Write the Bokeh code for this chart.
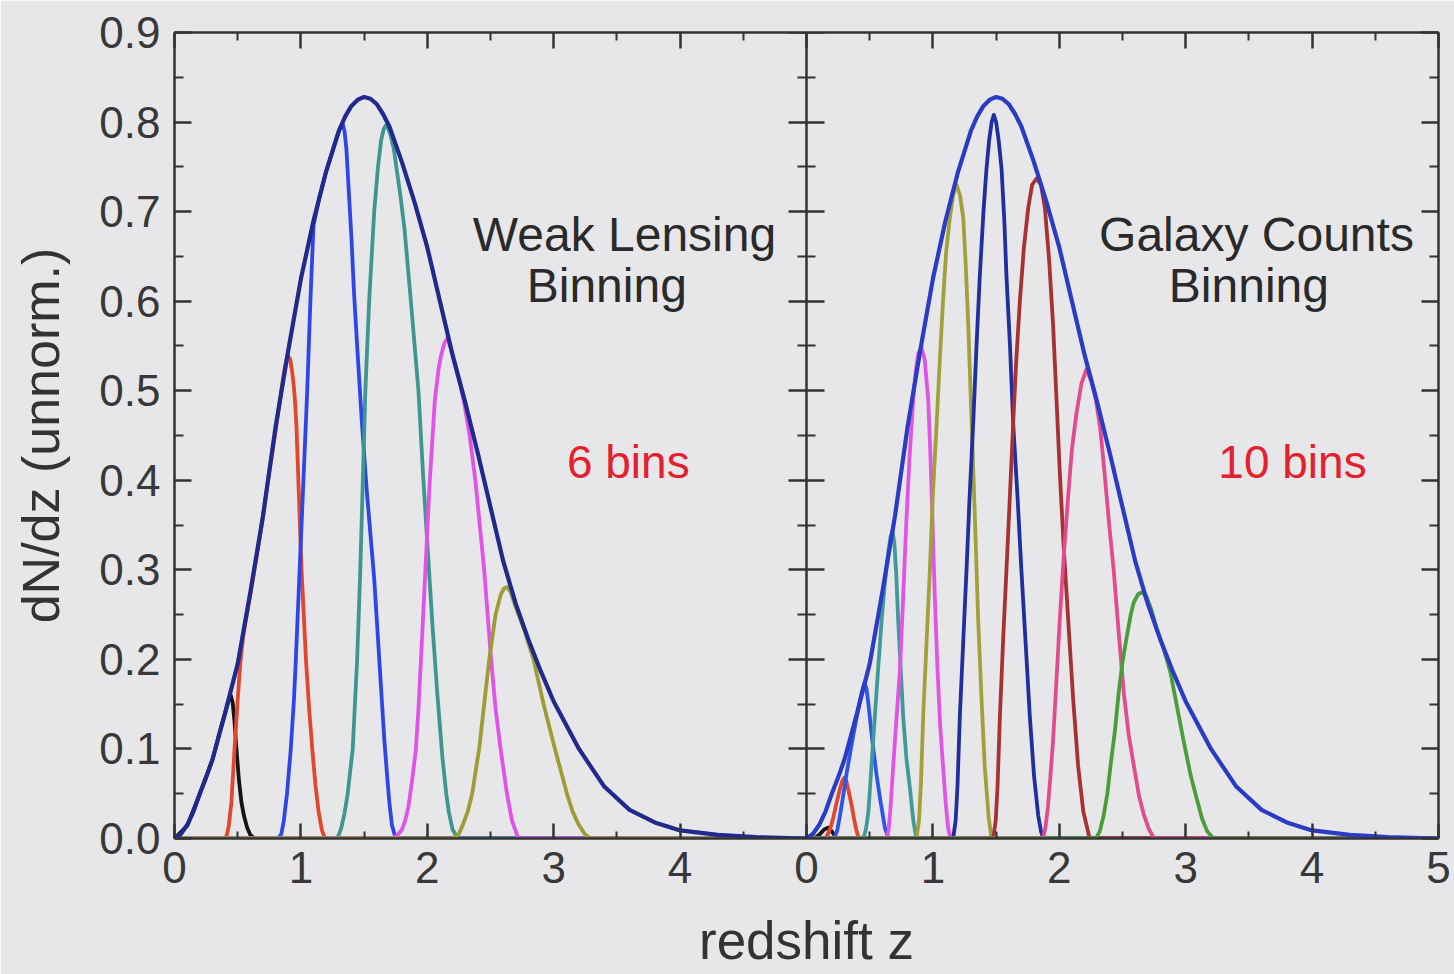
from bokeh.plotting import figure
from bokeh.models import Range1d, LinearAxis, FixedTicker, Label
from bokeh.embed import file_html
from bokeh.resources import INLINE

# ---------------- data ----------------
MAIN_Z = [0, 0.05, 0.1, 0.15, 0.2, 0.25, 0.3, 0.4, 0.5, 0.6, 0.7, 0.8, 0.9, 1.0, 1.1, 1.2, 1.3,
          1.35, 1.4, 1.45, 1.5, 1.55, 1.6, 1.65, 1.7, 1.8, 1.9, 2.0, 2.1, 2.2, 2.3, 2.4, 2.5,
          2.6, 2.7, 2.8, 2.9, 3.0, 3.2, 3.4, 3.6, 3.8, 4.0, 4.3, 4.6, 5.0]
MAIN_Y = [0, 0.005, 0.015, 0.03, 0.05, 0.068, 0.088, 0.14, 0.195, 0.275, 0.36, 0.46, 0.545,
          0.625, 0.69, 0.745, 0.79, 0.806, 0.818, 0.825, 0.828, 0.826, 0.82, 0.809, 0.795,
          0.755, 0.71, 0.66, 0.60, 0.54, 0.487, 0.43, 0.37, 0.31, 0.262, 0.222, 0.186, 0.153,
          0.10, 0.058, 0.032, 0.018, 0.009, 0.004, 0.0015, 0.0]

# Weak lensing binning (6 bins)
WL1_Z = [0, 0.1, 0.2, 0.3, 0.36, 0.40, 0.43, 0.445, 0.46, 0.475, 0.49, 0.51, 0.53, 0.55, 0.575,
         0.6, 0.625, 0.65, 5.0]
WL1_Y = [0, 0.014, 0.05, 0.088, 0.12, 0.14, 0.155, 0.16, 0.152, 0.13, 0.10, 0.065, 0.04, 0.025,
         0.012, 0.004, 0.001, 0, 0]
WL2_Z = [0, 0.40, 0.415, 0.43, 0.45, 0.475, 0.50, 0.52, 0.54, 0.555, 0.58, 0.60, 0.65, 0.70,
         0.75, 0.80, 0.85, 0.875, 0.895, 0.915, 0.93, 0.944, 0.955, 0.965, 0.98, 1.005, 1.04,
         1.065, 1.09, 1.115, 1.14, 1.165, 1.19, 5.0]
WL2_Y = [0, 0, 0.004, 0.015, 0.04, 0.10, 0.155, 0.195, 0.222, 0.236, 0.256, 0.272, 0.315, 0.36,
         0.41, 0.455, 0.505, 0.528, 0.54, 0.535, 0.522, 0.505, 0.485, 0.46, 0.40, 0.30, 0.20,
         0.145, 0.10, 0.06, 0.03, 0.01, 0, 0]
WL3_Z = [0, 0.82, 0.845, 0.865, 0.89, 0.92, 0.945, 0.96, 0.975, 0.99, 1.005, 1.02, 1.05, 1.075,
         1.10, 1.15, 1.2, 1.25, 1.29, 1.315, 1.33, 1.345, 1.36, 1.38, 1.40, 1.42, 1.445, 1.48,
         1.52, 1.55, 1.58, 1.62, 1.66, 1.685, 1.70, 1.72, 1.75, 5.0]
WL3_Y = [0, 0, 0.005, 0.02, 0.05, 0.10, 0.155, 0.20, 0.25, 0.30, 0.35, 0.40, 0.50, 0.60, 0.685,
         0.718, 0.745, 0.768, 0.786, 0.795, 0.798, 0.79, 0.77, 0.72, 0.67, 0.61, 0.55, 0.47,
         0.39, 0.34, 0.29, 0.20, 0.11, 0.065, 0.04, 0.015, 0, 0]
WL4_Z = [0, 1.28, 1.30, 1.32, 1.345, 1.37, 1.41, 1.445, 1.47, 1.49, 1.51, 1.54, 1.58, 1.61,
         1.635, 1.655, 1.67, 1.69, 1.71, 1.735, 1.76, 1.79, 1.82, 1.87, 1.90, 1.93, 1.965, 2.0,
         2.04, 2.08, 2.12, 2.15, 2.17, 2.20, 2.24, 5.0]
WL4_Y = [0, 0, 0.004, 0.012, 0.028, 0.05, 0.10, 0.20, 0.30, 0.40, 0.50, 0.60, 0.70, 0.75, 0.78,
         0.792, 0.796, 0.793, 0.785, 0.77, 0.745, 0.715, 0.68, 0.60, 0.55, 0.50, 0.41, 0.33,
         0.24, 0.16, 0.09, 0.05, 0.03, 0.01, 0, 0]
WL5_Z = [0, 1.72, 1.76, 1.80, 1.825, 1.85, 1.88, 1.91, 1.93, 1.95, 1.985, 2.02, 2.06, 2.09,
         2.11, 2.135, 2.16, 2.19, 2.22, 2.255, 2.29, 2.335, 2.38, 2.415, 2.45, 2.48, 2.505,
         2.54, 2.58, 2.63, 2.67, 2.72, 5.0]
WL5_Y = [0, 0, 0.003, 0.01, 0.02, 0.035, 0.065, 0.10, 0.145, 0.20, 0.30, 0.40, 0.49, 0.525,
         0.54, 0.553, 0.559, 0.545, 0.528, 0.51, 0.488, 0.45, 0.40, 0.35, 0.30, 0.245, 0.20,
         0.145, 0.10, 0.05, 0.02, 0, 0]
WL6_Z = [0, 2.20, 2.25, 2.28, 2.32, 2.355, 2.41, 2.45, 2.49, 2.54, 2.58, 2.605, 2.63, 2.66,
         2.70, 2.77, 2.84, 2.92, 3.01, 3.105, 3.15, 3.20, 3.245, 3.29, 5.0]
WL6_Y = [0, 0, 0.005, 0.015, 0.03, 0.05, 0.10, 0.15, 0.20, 0.25, 0.272, 0.279, 0.281, 0.275,
         0.258, 0.232, 0.20, 0.15, 0.10, 0.05, 0.03, 0.015, 0.005, 0, 0]

# Galaxy counts binning (10 bins)
GC1_Z = [0, 0.06, 0.10, 0.14, 0.17, 0.20, 0.24, 5.0]
GC1_Y = [0, 0, 0.004, 0.010, 0.012, 0.008, 0, 0]
GC2_Z = [0, 0.15, 0.17, 0.19, 0.21, 0.23, 0.25, 0.27, 0.285, 0.30, 0.315, 0.33, 0.345, 0.36,
         0.375, 0.39, 0.405, 0.42, 5.0]
GC2_Y = [0, 0, 0.005, 0.012, 0.022, 0.035, 0.047, 0.058, 0.065, 0.068, 0.064, 0.055, 0.045,
         0.035, 0.023, 0.012, 0.004, 0, 0]
GC3_Z = [0, 0.22, 0.245, 0.27, 0.295, 0.32, 0.345, 0.37, 0.395, 0.42, 0.44, 0.46, 0.475, 0.49,
         0.505, 0.52, 0.54, 0.555, 0.585, 0.62, 0.65, 5.0]
GC3_Y = [0, 0, 0.01, 0.03, 0.052, 0.075, 0.095, 0.115, 0.134, 0.152, 0.165, 0.174, 0.167, 0.15,
         0.13, 0.11, 0.087, 0.07, 0.042, 0.012, 0, 0]
GC4_Z = [0, 0.45, 0.47, 0.49, 0.514, 0.54, 0.567, 0.595, 0.62, 0.645, 0.665, 0.68, 0.695, 0.71,
         0.725, 0.745, 0.765, 0.79, 0.82, 0.845, 0.87, 5.0]
GC4_Y = [0, 0, 0.01, 0.03, 0.081, 0.135, 0.19, 0.245, 0.285, 0.318, 0.337, 0.344, 0.33, 0.295,
         0.245, 0.19, 0.136, 0.09, 0.054, 0.02, 0, 0]
GC5_Z = [0, 0.633, 0.65, 0.665, 0.686, 0.71, 0.74, 0.765, 0.79, 0.815, 0.844, 0.865, 0.885,
         0.91, 0.935, 0.963, 0.98, 0.997, 1.015, 1.036, 1.058, 1.08, 1.10, 1.12, 1.14, 5.0]
GC5_Y = [0, 0, 0.01, 0.035, 0.081, 0.13, 0.19, 0.27, 0.354, 0.425, 0.49, 0.523, 0.542, 0.548,
         0.535, 0.49, 0.43, 0.354, 0.27, 0.19, 0.125, 0.081, 0.042, 0.012, 0, 0]
GC6_Z = [0, 0.87, 0.89, 0.905, 0.923, 0.95, 0.976, 1.00, 1.03, 1.055, 1.08, 1.105, 1.134, 1.16,
         1.187, 1.215, 1.24, 1.26, 1.28, 1.30, 1.32, 1.34, 1.358, 1.385, 1.41, 1.44, 1.464, 5.0]
GC6_Y = [0, 0, 0.02, 0.06, 0.136, 0.22, 0.30, 0.385, 0.464, 0.535, 0.60, 0.655, 0.693, 0.718,
         0.73, 0.718, 0.693, 0.64, 0.573, 0.49, 0.409, 0.325, 0.245, 0.155, 0.081, 0.025, 0, 0]
GC7_Z = [0, 1.16, 1.18, 1.195, 1.213, 1.24, 1.266, 1.29, 1.319, 1.345, 1.371, 1.40, 1.424,
         1.445, 1.465, 1.482, 1.50, 1.52, 1.543, 1.565, 1.582, 1.61, 1.635, 1.67, 1.70, 1.735,
         1.767, 1.80, 1.833, 1.855, 1.875, 5.0]
GC7_Y = [0, 0, 0.02, 0.06, 0.136, 0.22, 0.30, 0.38, 0.464, 0.55, 0.628, 0.70, 0.748, 0.78, 0.80,
         0.808, 0.80, 0.78, 0.748, 0.69, 0.628, 0.55, 0.464, 0.38, 0.30, 0.215, 0.136, 0.07,
         0.026, 0.008, 0, 0]
GC8_Z = [0, 1.477, 1.497, 1.512, 1.53, 1.555, 1.582, 1.61, 1.635, 1.66, 1.688, 1.72, 1.754,
         1.785, 1.82, 1.855, 1.886, 1.92, 1.951, 1.978, 2.004, 2.035, 2.07, 2.11, 2.149, 2.19,
         2.24, 5.0]
GC8_Y = [0, 0, 0.02, 0.06, 0.136, 0.22, 0.30, 0.385, 0.464, 0.535, 0.60, 0.66, 0.704, 0.73,
         0.737, 0.73, 0.704, 0.645, 0.573, 0.49, 0.409, 0.325, 0.245, 0.155, 0.081, 0.03, 0, 0]
GC9_Z = [0, 1.87, 1.89, 1.91, 1.93, 1.95, 1.975, 2.004, 2.035, 2.07, 2.10, 2.136, 2.175, 2.215,
         2.255, 2.29, 2.326, 2.36, 2.395, 2.43, 2.47, 2.51, 2.55, 2.59, 2.63, 2.67, 2.71, 2.75,
         5.0]
GC9_Y = [0, 0, 0.012, 0.035, 0.07, 0.108, 0.17, 0.245, 0.315, 0.382, 0.435, 0.475, 0.508,
         0.524, 0.51, 0.49, 0.455, 0.405, 0.35, 0.30, 0.23, 0.163, 0.115, 0.081, 0.048, 0.026,
         0.01, 0, 0]
GC10_Z = [0, 2.29, 2.32, 2.35, 2.38, 2.405, 2.44, 2.47, 2.50, 2.537, 2.565, 2.59, 2.625, 2.656,
          2.69, 2.73, 2.775, 2.83, 2.88, 2.93, 2.985, 3.04, 3.09, 3.13, 3.17, 3.22, 5.0]
GC10_Y = [0, 0, 0.008, 0.025, 0.05, 0.081, 0.12, 0.163, 0.197, 0.228, 0.25, 0.264, 0.273,
          0.275, 0.27, 0.255, 0.232, 0.21, 0.185, 0.148, 0.108, 0.07, 0.043, 0.022, 0.008, 0, 0]

Y_TICKS = [0.0, 0.1, 0.2, 0.3, 0.4, 0.5, 0.6, 0.7, 0.8, 0.9]
Y_MINOR = [0.05, 0.15, 0.25, 0.35, 0.45, 0.55, 0.65, 0.75, 0.85]
X_TICKS = [0, 1, 2, 3, 4, 5, 6, 7, 8, 9, 10]
X_MINOR = [0.5, 1.5, 2.5, 3.5, 4.5, 5.5, 6.5, 7.5, 8.5, 9.5]
X_LABELS = ["0", "1", "2", "3", "4", "0", "1", "2", "3", "4", "5"]

WL_BINS = [(WL1_Z, WL1_Y, "#151515"), (WL2_Z, WL2_Y, "#e2462c"), (WL3_Z, WL3_Y, "#2c46ea"),
           (WL4_Z, WL4_Y, "#3f9590"), (WL5_Z, WL5_Y, "#e052e8"), (WL6_Z, WL6_Y, "#9e9c34")]
GC_BINS = [(GC1_Z, GC1_Y, "#151515"), (GC2_Z, GC2_Y, "#e2462c"), (GC3_Z, GC3_Y, "#2d55ea"),
           (GC4_Z, GC4_Y, "#3f9a98"), (GC5_Z, GC5_Y, "#e055e6"), (GC6_Z, GC6_Y, "#a2a03a"),
           (GC7_Z, GC7_Y, "#1f2fa0"), (GC8_Z, GC8_Y, "#a83232"), (GC9_Z, GC9_Y, "#e24c8e"),
           (GC10_Z, GC10_Y, "#4c9c3c")]

BG = "#e7e7e9"
FONT = "Liberation Sans"
AX = "#333333"

p = figure(width=1454, height=974, x_range=Range1d(0, 10), y_range=Range1d(0, 0.9),
           output_backend="svg", toolbar_location=None,
           min_border_left=174, min_border_right=16, min_border_top=32, min_border_bottom=136,
           background_fill_color=BG, border_fill_color=BG, outline_line_color=None)
p.extra_x_ranges = {"right": Range1d(-5, 5)}
p.grid.visible = False


def style_axis(ax, tin, tout, mtin, mtout, labels=True):
    ax.axis_line_color = AX
    ax.axis_line_width = 2.5
    ax.major_tick_line_color = AX
    ax.major_tick_line_width = 2.5
    ax.minor_tick_line_color = AX
    ax.minor_tick_line_width = 2
    ax.major_tick_in = tin
    ax.major_tick_out = tout
    ax.minor_tick_in = mtin
    ax.minor_tick_out = mtout
    ax.major_label_text_font = FONT
    ax.major_label_text_color = "#383838"
    ax.major_label_text_font_size = "44px"
    if not labels:
        ax.major_label_text_font_size = "0px"
        ax.major_label_text_color = None
        ax.major_label_standoff = 0


# left y axis
yax = p.yaxis[0]
yax.ticker = FixedTicker(ticks=Y_TICKS, minor_ticks=Y_MINOR)
yax.major_label_overrides = {t: f"{t:.1f}" for t in Y_TICKS}
style_axis(yax, 17, 0, 9, 0)
yax.major_label_standoff = 14
yax.axis_label = "dN/dz (unnorm.)"
yax.axis_label_text_font = FONT
yax.axis_label_text_font_size = "52px"
yax.axis_label_text_font_style = "normal"
yax.axis_label_text_color = "#333333"
yax.axis_label_standoff = 26

# bottom x axis
xax = p.xaxis[0]
xax.ticker = FixedTicker(ticks=X_TICKS, minor_ticks=X_MINOR)
xax.major_label_overrides = {t: lab for t, lab in zip(X_TICKS, X_LABELS)}
style_axis(xax, 15, 0, 7, 0)
xax.major_label_standoff = 13
xax.axis_label = "redshift z"
xax.axis_label_text_font = FONT
xax.axis_label_text_font_size = "53px"
xax.axis_label_text_font_style = "normal"
xax.axis_label_text_color = "#333333"
xax.axis_label_standoff = 25

# top axis
top = LinearAxis(ticker=FixedTicker(ticks=X_TICKS, minor_ticks=X_MINOR))
style_axis(top, 16, 0, 8, 0, labels=False)
p.add_layout(top, "above")

# right axis
rax = LinearAxis(ticker=FixedTicker(ticks=Y_TICKS, minor_ticks=Y_MINOR))
style_axis(rax, 17, 0, 9, 0, labels=False)
p.add_layout(rax, "right")

# shared middle axis between the two panels
mid = LinearAxis(ticker=FixedTicker(ticks=Y_TICKS, minor_ticks=Y_MINOR), fixed_location=5)
style_axis(mid, 18, 18, 9, 9, labels=False)
p.add_layout(mid, "left")

# curves
for z, y, c in WL_BINS:
    p.line(z, y, line_color=c, line_width=3.8, line_join="round")
p.line(MAIN_Z, MAIN_Y, line_color="#1f2a8c", line_width=4.2, line_join="round")

for z, y, c in GC_BINS:
    p.line(z, y, line_color=c, line_width=3.8, line_join="round", x_range_name="right")
p.line(MAIN_Z, MAIN_Y, line_color="#2a3cc4", line_width=4.2, line_join="round",
       x_range_name="right")


# annotations
def lab(x, y, text, color="#2a2a2a", size="48px", rng="default"):
    p.add_layout(Label(x=x, y=y, text=text, text_font=FONT, text_font_size=size,
                       text_color=color, text_align="center", text_baseline="alphabetic",
                       x_range_name=rng))


lab(3.56, 0.674, "Weak Lensing")
lab(3.42, 0.617, "Binning")
lab(3.59, 0.420, "6 bins", color="#e3202c", size="46px")
lab(3.56, 0.674, "Galaxy Counts", rng="right")
lab(3.50, 0.617, "Binning", rng="right")
lab(3.845, 0.420, "10 bins", color="#e3202c", size="46px", rng="right")

open("out.html", "w").write(file_html(p, INLINE))
